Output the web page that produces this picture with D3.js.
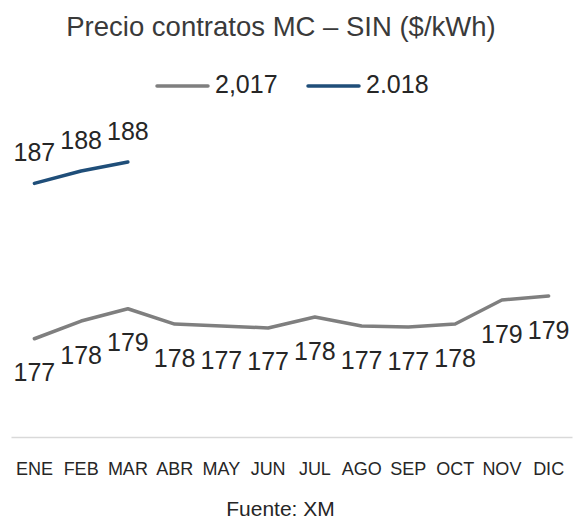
<!DOCTYPE html>
<html>
<head>
<meta charset="utf-8">
<script src="https://cdn.jsdelivr.net/npm/d3@7"></script>
<style>
  body { margin: 0; background: #fff; }
  text { font-family: "Liberation Sans", Arial, sans-serif; }
</style>
</head>
<body>
<div id="chart"></div>
<script>
// data
const months = ['ENE', 'FEB', 'MAR', 'ABR', 'MAY', 'JUN', 'JUL', 'AGO', 'SEP', 'OCT', 'NOV', 'DIC'];
const values2017 = [176.55, 177.73, 178.55, 177.53, 177.4, 177.27, 178.0, 177.4, 177.33, 177.53, 179.13, 179.4];
const values2018 = [186.91, 187.73, 188.33];
const seriesNames = ['2,017', '2.018'];

const width = 573, height = 521;
const svg = d3.select('#chart').append('svg')
  .attr('width', width)
  .attr('height', height);

const x = d3.scaleBand()
  .domain(months)
  .range([11, 572]);

const y = d3.scaleLinear()
  .domain([170, 190])
  .range([437, 137]);

const cx = d => x(d) + x.bandwidth() / 2;
const fmt = d3.format('.0f');

// title
svg.append('text')
  .attr('x', 281).attr('y', 36)
  .attr('text-anchor', 'middle')
  .style('font-size', '27.5px')
  .style('fill', '#3a3a3a')
  .text('Precio contratos MC – SIN ($/kWh)');

// legend
const legend = svg.append('g');
const legendItems = [
  { name: seriesNames[0], color: '#7f7f7f', x: 157 },
  { name: seriesNames[1], color: '#1f4e79', x: 308 }
];
legendItems.forEach(it => {
  legend.append('line')
    .attr('x1', it.x).attr('x2', it.x + 51)
    .attr('y1', 86).attr('y2', 86)
    .attr('stroke', it.color)
    .attr('stroke-width', 3.5)
    .attr('stroke-linecap', 'round');
  legend.append('text')
    .attr('x', it.x + 58).attr('y', 93)
    .style('font-size', '25px')
    .style('fill', '#262626')
    .text(it.name);
});

// x axis
const xAxis = svg.append('g')
  .attr('transform', `translate(0,${y(170)})`)
  .call(d3.axisBottom(x).tickSize(0).tickPadding(25));
xAxis.select('.domain').attr('stroke', '#d9d9d9').attr('stroke-width', 1.5);
xAxis.selectAll('text')
  .style('font-family', '"Liberation Sans", Arial, sans-serif')
  .style('font-size', '18px')
  .style('fill', '#262626');

// lines
const line = d3.line()
  .x((d, i) => cx(months[i]))
  .y(d => y(d));

svg.append('path')
  .datum(values2017)
  .attr('fill', 'none')
  .attr('stroke', '#7f7f7f')
  .attr('stroke-width', 3.5)
  .attr('stroke-linejoin', 'round')
  .attr('stroke-linecap', 'round')
  .attr('d', line);

svg.append('path')
  .datum(values2018)
  .attr('fill', 'none')
  .attr('stroke', '#1f4e79')
  .attr('stroke-width', 3.5)
  .attr('stroke-linejoin', 'round')
  .attr('stroke-linecap', 'round')
  .attr('d', line);

// data labels
svg.append('g').selectAll('text')
  .data(values2017)
  .join('text')
  .attr('x', (d, i) => cx(months[i]))
  .attr('y', d => y(d) + 42.5)
  .attr('text-anchor', 'middle')
  .style('font-size', '25px')
  .style('fill', '#262626')
  .text(d => fmt(d));

svg.append('g').selectAll('text')
  .data(values2018)
  .join('text')
  .attr('x', (d, i) => cx(months[i]))
  .attr('y', d => y(d) - 22)
  .attr('text-anchor', 'middle')
  .style('font-size', '25px')
  .style('fill', '#262626')
  .text(d => fmt(d));

// source
svg.append('text')
  .attr('x', 280.5).attr('y', 516)
  .attr('text-anchor', 'middle')
  .style('font-size', '21px')
  .style('fill', '#262626')
  .text('Fuente: XM');
</script>
</body>
</html>
